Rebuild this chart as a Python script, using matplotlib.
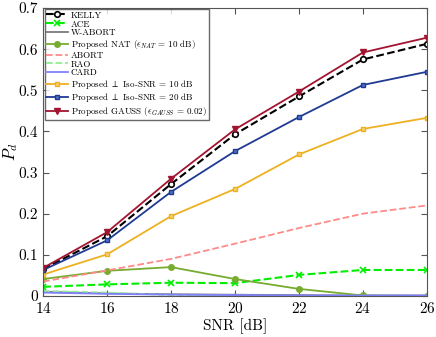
import numpy as np
import matplotlib
matplotlib.use("Agg")
import matplotlib.pyplot as plt

plt.rcParams['font.family'] = ['cmr10', 'DejaVu Serif']
plt.rcParams['mathtext.fontset'] = 'cm'
plt.rcParams['axes.formatter.use_mathtext'] = True

snr = [14, 16, 18, 20, 22, 24, 26]

kelly = [0.065, 0.145, 0.272, 0.393, 0.485, 0.575, 0.613]
ace = [0.022, 0.028, 0.032, 0.031, 0.051, 0.063, 0.063]
w_abort = [0.010, 0.006, 0.004, 0.003, 0.002, 0.001, 0.001]
nat = [0.041, 0.061, 0.070, 0.041, 0.017, 0.001, 0.000]
abort = [0.035, 0.062, 0.090, 0.127, 0.165, 0.200, 0.220]
rao = [0.012, 0.008, 0.002, 0.001, 0.000, 0.000, 0.000]
card = [0.008, 0.005, 0.003, 0.002, 0.001, 0.001, 0.001]
iso10 = [0.052, 0.101, 0.194, 0.260, 0.344, 0.406, 0.433]
iso20 = [0.063, 0.135, 0.253, 0.352, 0.435, 0.513, 0.545]
gauss = [0.068, 0.155, 0.285, 0.405, 0.497, 0.592, 0.628]

fig = plt.figure(figsize=(4.36, 3.37), dpi=100)
ax = fig.add_axes([0.099, 0.122, 0.880, 0.854])

ax.plot(snr, kelly, 'k--', marker='o', mfc='white', ms=4, mew=1.2, lw=1.5, label='KELLY')
ax.plot(snr, ace, '--', color='#00ee00', marker='x', ms=4, mew=1.2, lw=1.5, label='ACE')
ax.plot(snr, w_abort, '-', color='#707070', lw=1.2, label='W-ABORT')
ax.plot(snr, nat, '-', color='#77AC30', marker='o', ms=4, lw=1.3,
        label=r'Proposed NAT ($\epsilon_{NAT}$ = 10 dB)')
ax.plot(snr, abort, '--', color='#ff8a8a', lw=1.3, label='ABORT')
ax.plot(snr, rao, '--', color='#90ee90', lw=1.3, label='RAO')
ax.plot(snr, card, '-', color='#8080ff', lw=1.3, label='CARD')
ax.plot(snr, iso10, '-', color='#EDB120', marker='s', ms=3.5, mfc='#f5d070', lw=1.3,
        label=r'Proposed $\perp$ Iso-SNR = 10 dB')
ax.plot(snr, iso20, '-', color='#1f3a93', marker='s', ms=3.5, mfc='#5070c0', lw=1.3,
        label=r'Proposed $\perp$ Iso-SNR = 20 dB')
ax.plot(snr, gauss, '-', color='#A2142F', marker='v', ms=4.5, lw=1.3,
        label=r'Proposed GAUSS ($\epsilon_{GAUSS}$ = 0.02)')

ax.set_xlim(14, 26)
ax.set_ylim(0, 0.7)
ax.set_xticks(snr)
ax.set_yticks(np.arange(0, 0.71, 0.1))
ax.set_yticklabels(['0', '0.1', '0.2', '0.3', '0.4', '0.5', '0.6', '0.7'])
ax.tick_params(direction='in', top=True, right=True, labelsize=11, length=4, color='#555555')
for s in ax.spines.values():
    s.set_color('#555555')
ax.set_xlabel('SNR [dB]', fontsize=11, labelpad=2)
ax.set_ylabel(r'$P_d$', fontsize=12)
ax.yaxis.set_label_coords(-0.06, 0.5)

leg = ax.legend(loc='upper left', fontsize=6.5, frameon=True, fancybox=False,
                edgecolor='#444444', borderpad=0.2, labelspacing=0.05,
                handlelength=2.4, handletextpad=0.3, borderaxespad=0.15)
leg.get_frame().set_linewidth(1.0)

fig.savefig('out.png', dpi=100)
